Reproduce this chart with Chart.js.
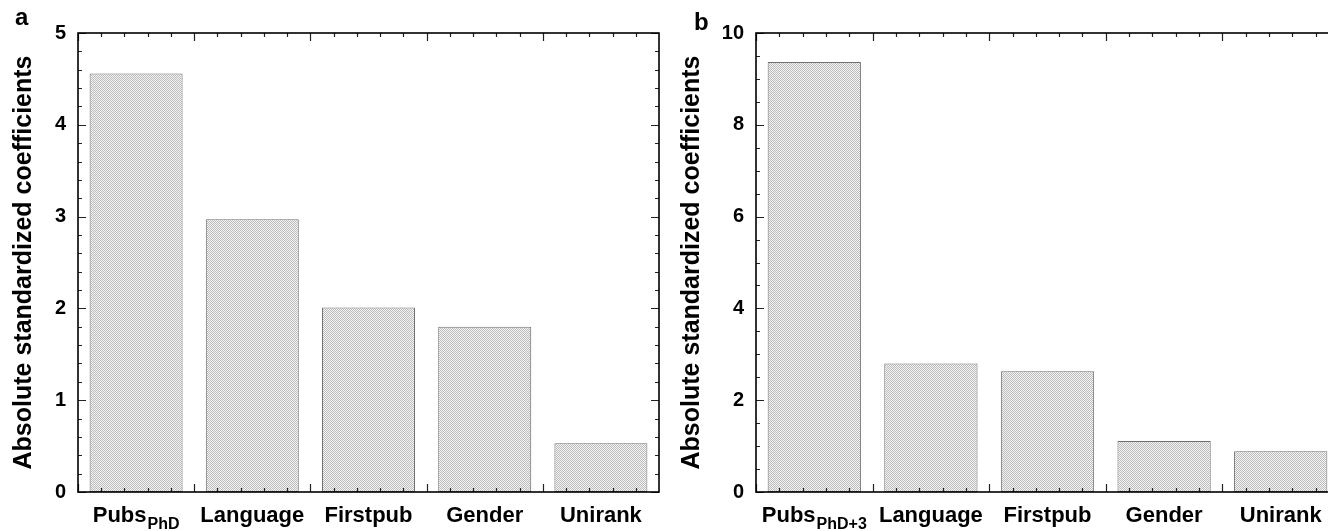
<!DOCTYPE html>
<html>
<head>
<meta charset="utf-8">
<script src="https://cdn.jsdelivr.net/npm/chart.js@4/dist/chart.umd.min.js"></script>
<style>
  body { margin: 0; width: 1328px; height: 531px; overflow: hidden; background: #fff; position: relative; }
  .panel { position: absolute; top: 0; height: 531px; }
  .letter { position: absolute; font: bold 24px "Liberation Sans", Arial, sans-serif; color: #000; }
</style>
</head>
<body>
<div class="panel" style="left:0;width:680px"><canvas id="chart-a" width="680" height="531"></canvas></div>
<div class="panel" style="left:668px;width:690px"><canvas id="chart-b" width="690" height="531"></canvas></div>
<span class="letter" style="left:15px;top:3px">a</span>
<span class="letter" style="left:694px;top:8px">b</span>
<script>
// categories and values
const categories = ['Pubs', 'Language', 'Firstpub', 'Gender', 'Unirank'];
const subsA = ['PhD', '', '', '', ''];
const subsB = ['PhD+3', '', '', '', ''];
const valuesA = [4.56, 2.97, 2.01, 1.80, 0.53];
const valuesB = [9.37, 2.80, 2.63, 1.11, 0.89];
const yTitle = 'Absolute standardized coefficients';

const FONT = '"Liberation Sans", Arial, sans-serif';

//grey checker pattern like the printed hatch
function makePattern(ctx){
    let p = document.createElement('canvas');
    p.width = 2; p.height = 2;
    let pc = p.getContext('2d');
    pc.fillStyle = '#f4f4f4';
    pc.fillRect(0, 0, 2, 2);
    pc.fillStyle = '#bcbcbc';
    pc.fillRect(0, 0, 1, 1);
    pc.fillRect(1, 1, 1, 1);
    return ctx.createPattern(p, 'repeat');
}

//frame, inward ticks and the x labels with subscripts
const framePlugin = {
    id: 'frame',
    afterDraw(chart, args, opts){
        let ctx = chart.ctx;
        let a = chart.chartArea;
        let y = chart.scales.y;
        let x = chart.scales.x;
        ctx.save();

        ctx.strokeStyle = '#222';
        ctx.lineWidth = 1.2;
        ctx.beginPath();
        for (let v = y.min; v <= y.max + 1e-9; v += opts.minor) {
            let py = Math.round(y.getPixelForValue(v)) + 0.5;
            let major = Math.abs(v / opts.major - Math.round(v / opts.major)) < 1e-6;
            let len = major ? 8 : 4;
            ctx.moveTo(a.left, py); ctx.lineTo(a.left + len, py);
            ctx.moveTo(a.right, py); ctx.lineTo(a.right - len, py);
        }
        let n = chart.data.labels.length;
        let w = x.width / n;
        for (let i = 0; i < n; i++) {
            let start = x.getPixelForValue(i) - w / 2;
            for (let k = 0; k < 5; k++) {
                let px = Math.round(start + k * w / 5) + 0.5;
                let len = k === 0 ? 8 : 4;
                ctx.moveTo(px, a.bottom); ctx.lineTo(px, a.bottom - len);
                ctx.moveTo(px, a.top); ctx.lineTo(px, a.top + len);
            }
        }
        ctx.stroke();

        ctx.strokeStyle = '#000';
        ctx.lineWidth = 1.6;
        ctx.strokeRect(a.left, a.top, a.right - a.left, a.bottom - a.top);

        //category labels
        ctx.fillStyle = '#000';
        ctx.textBaseline = 'alphabetic';
        ctx.textAlign = 'left';
        chart.data.labels.forEach((lab, i) => {
            let sub = opts.subs[i];
            ctx.font = 'bold 22px ' + FONT;
            let w1 = ctx.measureText(lab).width;
            ctx.font = 'bold 16px ' + FONT;
            let w2 = sub ? ctx.measureText(sub).width + 1 : 0;
            let cx = x.getPixelForValue(i);
            let sx = cx - (w1 + w2) / 2;
            ctx.font = 'bold 22px ' + FONT;
            ctx.fillText(lab, sx, 522);
            if (sub) {
                ctx.font = 'bold 16px ' + FONT;
                ctx.fillText(sub, sx + w1 + 1, 529);
            }
        });
        ctx.restore();
    }
};

function createPanel(id, values, subs, yMax, major, minor, axisWidth, rightPad){
    let ctx = document.getElementById(id);
    return new Chart(ctx, {
        type: 'bar',
        data: {
            labels: categories,
            datasets: [{
                data: values,
                backgroundColor: makePattern(ctx.getContext('2d')),
                borderColor: '#707070',
                borderWidth: 1,
                borderSkipped: false,
                barPercentage: 0.8,
                categoryPercentage: 1.0
            }]
        },
        options: {
            responsive: false,
            animation: false,
            layout: { padding: { top: 33, right: rightPad, left: 0, bottom: 0 } },
            plugins: {
                legend: { display: false },
                tooltip: { enabled: false },
                frame: { major: major, minor: minor, subs: subs }
            },
            scales: {
                x: {
                    grid: { display: false, drawTicks: false },
                    border: { display: false },
                    ticks: { display: false },
                    afterFit(s){ s.height = 39; }
                },
                y: {
                    min: 0,
                    max: yMax,
                    grid: { display: false, drawTicks: false },
                    border: { display: false },
                    ticks: {
                        stepSize: major,
                        padding: 12,
                        color: '#000',
                        font: { family: FONT, size: 20, weight: 'bold' }
                    },
                    title: {
                        display: true,
                        text: yTitle,
                        color: '#000',
                        padding: { top: 9, bottom: 0 },
                        font: { family: FONT, size: 25, weight: 'bold' }
                    },
                    afterFit(s){ s.width = axisWidth; }
                }
            }
        },
        plugins: [framePlugin]
    });
}

createPanel('chart-a', valuesA, subsA, 5, 1, 0.2, 78, 21);
createPanel('chart-b', valuesB, subsB, 10, 2, 0.5, 88, 19);
</script>
</body>
</html>
